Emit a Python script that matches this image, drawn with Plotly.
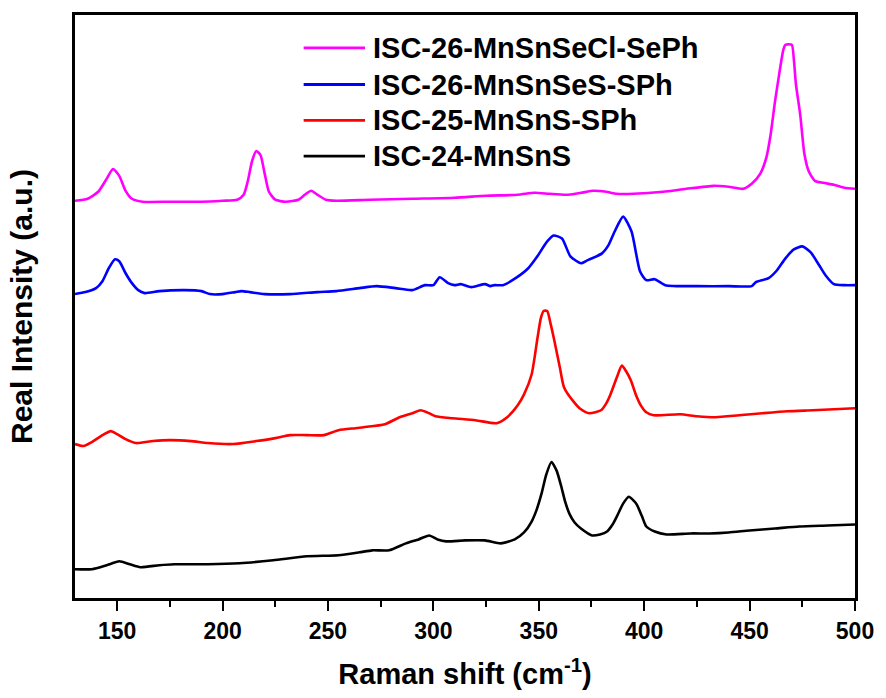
import plotly.graph_objects as go

# ---- data (Raman shift in cm^-1, intensity in arbitrary offset units) ----
names = ["ISC-26-MnSnSeCl-SePh", "ISC-26-MnSnSeS-SPh", "ISC-25-MnSnS-SPh", "ISC-24-MnSnS"]
colors = ["#FF00FF", "#0000FF", "#FF0000", "#000000"]

x_mag = [130, 136, 141, 145, 148, 151, 154, 157, 162, 175, 190, 200, 207, 210, 212, 214, 216, 218, 220, 222,
         225, 230, 236, 239, 242, 245, 249, 254, 270, 290, 310, 325, 340, 348, 355, 363, 370, 376, 382, 387,
         395, 409, 420, 433, 440, 447, 451, 455, 458, 460, 462, 464, 466, 467, 470, 471, 472, 474, 476, 478,
         481, 485, 490, 495, 500]
y_mag = [400, 402, 409, 422, 432, 425, 410, 402, 399, 399, 399, 400, 401, 406, 420, 440, 450, 446, 427, 409,
         401, 399, 401, 406, 410, 406, 401, 400, 401, 402, 403, 405, 406, 408, 407, 406, 408, 410, 409, 407,
         407, 409, 412, 415, 414, 412, 417, 427, 444, 467, 499, 527, 552, 557, 557, 542, 517, 487, 447, 430,
         420, 418, 416, 413, 412]

x_blue = [130, 135, 140, 143, 146, 149, 151, 154, 157, 160, 163, 170, 182, 190, 194, 200, 206, 209, 213, 220,
          232, 245, 254, 265, 273, 282, 290, 296, 300, 303, 307, 310, 313, 318, 324.5, 327, 329, 333, 339, 345,
          349, 354, 357, 361, 365, 370, 373, 380, 383, 386, 390, 394, 398, 401, 405, 410, 425, 440, 451, 453,
          459, 463, 467, 471, 475, 479, 483, 486, 490, 495, 500]
y_blue = [306, 308, 312, 319, 332, 341, 339, 327, 317, 310, 307, 309, 310, 309, 306, 306, 308, 309, 308, 306,
          306, 308, 309, 312, 314, 312, 310, 315, 315, 323, 317, 315, 316, 313, 316, 314, 315, 315, 322, 332,
          343, 359, 365, 362, 344, 337, 340, 347, 355, 369, 384, 369, 329, 320, 321, 315, 314, 314, 314, 318,
          322, 330, 342, 351, 354, 348, 335, 325, 316, 315, 315]

x_red = [130, 134, 138, 143, 147, 150, 154, 159, 167, 175, 185, 193, 205, 216, 225, 232, 240, 248, 255, 263,
         267, 277, 284, 290, 294, 298, 301, 309, 320, 330, 335, 340, 343, 346.6, 349.4, 351, 352.3, 354, 355.5,
         357.4, 360, 362, 366.8, 370, 374, 379.5, 382, 384, 387, 389.4, 391.5, 393.7, 396, 398.4, 401, 404.5,
         417, 425, 434, 445, 456, 468, 480, 490, 500]
y_red = [155, 153, 157, 164, 168, 165, 160, 156, 158, 159, 158, 156, 155, 158, 161, 164, 164, 164, 169, 171,
         172, 175, 182, 186, 189, 186, 183, 181, 179, 176, 182, 194, 205, 225, 262, 282, 289, 289, 277,
         259, 232, 212, 197, 190, 186, 189, 196, 205, 222, 234, 228, 219, 205, 194, 187, 184,
         185, 183, 182, 184, 186, 188, 189, 190, 191]

x_black = [130, 138, 145, 151, 156, 161, 170, 177, 193, 208, 224, 240, 255, 265, 271, 279, 287, 293, 298, 302,
           306, 315, 324.5, 332, 338.6, 343, 346.6, 349, 351.3, 353.5, 356, 358.5, 360.7, 362.5, 364.5, 367, 370,
           375.3, 379, 382.4, 385, 387, 390, 392.7, 395, 396.5, 399, 401, 405, 410.6, 422, 431, 440, 450, 462,
           473.6, 487, 500]
y_black = [29, 29, 33, 37, 34, 31, 33, 34, 34, 35, 38, 42, 43, 46, 48, 48, 55, 59, 63, 59,
           57, 58, 58, 55, 59, 66, 77, 89, 105, 124, 137, 128, 112, 97, 85, 76, 70,
           63, 64, 67, 74, 82, 95, 102, 98, 94, 82, 72, 67, 64, 65, 65, 66, 68, 70,
           72, 73, 74]

x_ticks = [150, 200, 250, 300, 350, 400, 450, 500]

series_x = [x_mag, x_blue, x_red, x_black]
series_y = [y_mag, y_blue, y_red, y_black]

FONT = "Liberation Sans, Arial, sans-serif"

fig = go.Figure()
for nm, col, xs, ys in zip(names, colors, series_x, series_y):
    fig.add_trace(go.Scatter(x=xs, y=ys, mode="lines", name=nm, showlegend=False,
                             line=dict(color=col, width=2.6, shape="spline", smoothing=0.6)))

# manual legend (long sample lines, as in the original)
L, R, T, B = 75, 863, 15, 602
W, H = R - L, B - T
legend_rows = [48, 85, 121, 157]
for nm, col, py in zip(names, colors, legend_rows):
    yp = (B - py) / H
    fig.add_shape(type="line", xref="paper", yref="paper",
                  x0=(306 - L) / W, x1=(368 - L) / W, y0=yp, y1=yp,
                  line=dict(color=col, width=2.8))
    fig.add_annotation(xref="paper", yref="paper", x=(374 - L) / W, y=yp, text="<b>%s</b>" % nm,
                       showarrow=False, xanchor="left", yanchor="middle",
                       font=dict(family=FONT, size=29, color="black"))

fig.update_layout(
    width=886, height=698,
    margin=dict(l=L, r=886 - R, t=T, b=698 - B),
    paper_bgcolor="white", plot_bgcolor="white",
    font=dict(family=FONT, color="black"),
)
fig.update_xaxes(range=[130, 500], tickvals=x_ticks,
                 ticktext=["<b>%d</b>" % v for v in x_ticks],
                 ticks="outside", ticklen=10, tickwidth=2.2, tickcolor="black",
                 minor=dict(dtick=25, tick0=125, ticks="outside", ticklen=6, tickwidth=2, tickcolor="black"),
                 showline=True, linewidth=3, linecolor="black", mirror=True,
                 showgrid=False, zeroline=False,
                 tickfont=dict(family=FONT, size=23, color="black"),
                 title=dict(text="<b>Raman shift (cm<sup>-1</sup>)</b>", standoff=22,
                            font=dict(family=FONT, size=29, color="black")))
fig.update_yaxes(range=[0, 587], showticklabels=False, ticks="",
                 showline=True, linewidth=3, linecolor="black", mirror=True,
                 showgrid=False, zeroline=False,
                 title=dict(text="<b>Real Intensity (a.u.)</b>", standoff=31,
                            font=dict(family=FONT, size=30, color="black")))

fig.write_html("out.html")
